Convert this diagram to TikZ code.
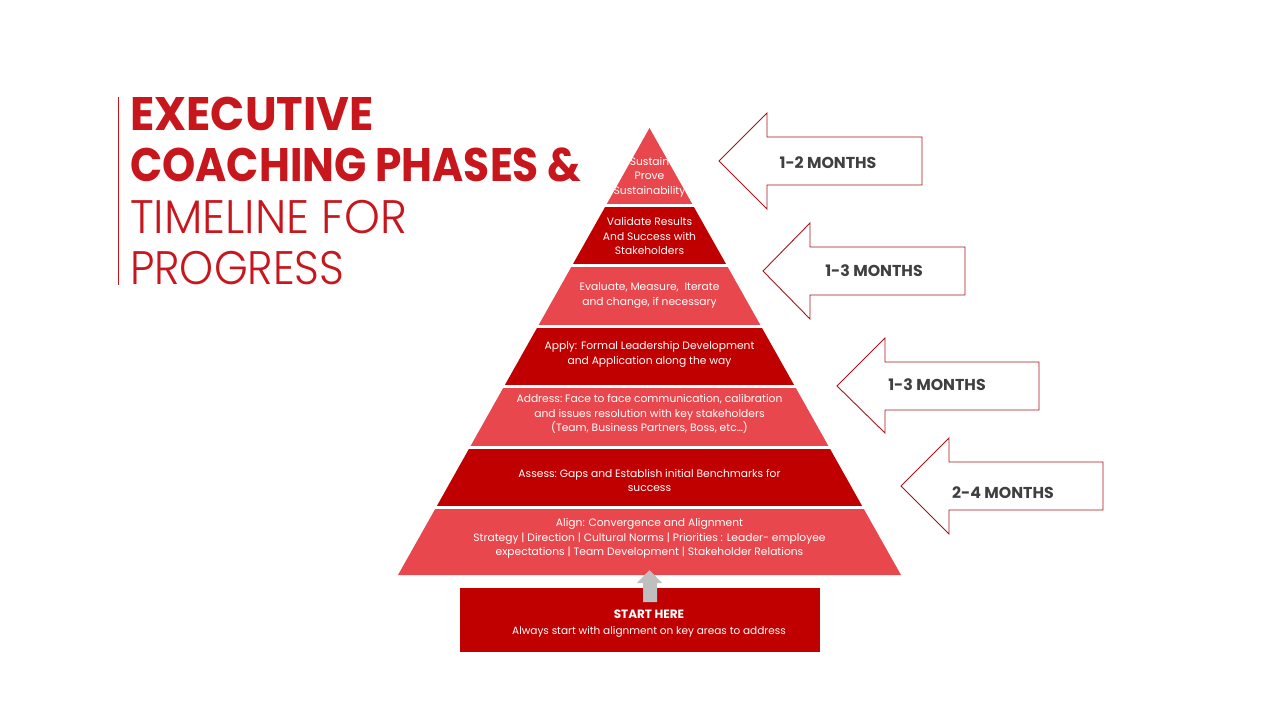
\documentclass[tikz,border=0pt]{standalone}
\usepackage{fontspec}
\setmainfont{Poppins}
\newfontfamily\lightfont{Poppins Light}
\definecolor{lightred}{HTML}{E8484D}
\definecolor{darkred}{HTML}{C00000}
\definecolor{titlered}{HTML}{C8161D}
\definecolor{arrowline}{HTML}{A8141C}
\definecolor{monthgray}{HTML}{404040}
\definecolor{upgray}{HTML}{BFBFBF}
\tikzset{
  layertext/.style={text=white, align=center, inner sep=0pt, font=\fontsize{10.7}{14.5}\selectfont},
  monthtext/.style={text=monthgray, inner sep=0pt, font=\fontsize{15.8}{15.8}\selectfont\bfseries},
  monthshape/.style={draw=arrowline, line width=0.9pt, fill=white, line join=miter},
  gap/.style={draw=white, line width=2.5pt},
  titlebold/.style={text=titlered, inner sep=0pt, anchor=base west, font=\fontsize{47}{47}\selectfont\bfseries},
  titlelight/.style={text=titlered, inner sep=0pt, anchor=base west, font=\fontsize{47}{47}\selectfont\lightfont},
}
\begin{document}
\begin{tikzpicture}[x=1pt,y=-1pt]
\useasboundingbox (0,0) rectangle (1280,720);
\fill[white] (0,0) rectangle (1280,720);

% title
\draw[titlered, line width=1pt] (118,97) -- (118,285);
\node[titlebold] (t1) at (130,130) {\scalebox{0.956}[1]{EXECUTIVE}};
\node[titlebold] (t2) at (130,181) {\scalebox{0.90}[1]{COACHING PHASES \&}};
\node[titlelight] (t3) at (130,233) {\scalebox{0.97}[1]{TIMELINE FOR}};
\node[titlelight] (t4) at (130,284) {\scalebox{0.92}[1]{PROGRESS}};

% pyramid layers
\fill[lightred] (649.5,128) -- (692.8,205) -- (606.2,205) -- cycle;
\fill[darkred] (606.2,205) -- (692.8,205) -- (726.6,265) -- (572.4,265) -- cycle;
\fill[lightred] (572.4,265) -- (726.6,265) -- (760.9,326) -- (538.1,326) -- cycle;
\fill[darkred] (538.1,326) -- (760.9,326) -- (794.7,386) -- (504.3,386) -- cycle;
\fill[lightred] (504.3,386) -- (794.7,386) -- (829,447) -- (470,447) -- cycle;
\fill[darkred] (470,447) -- (829,447) -- (862.7,507) -- (436.3,507) -- cycle;
\fill[lightred] (436.3,507) -- (862.7,507) -- (901,575) -- (398,575) -- cycle;
\draw[gap] (603,205.5) -- (696,205.5);
\draw[gap] (569,265.5) -- (730,265.5);
\draw[gap] (535,326.5) -- (764,326.5);
\draw[gap] (501,386.5) -- (798,386.5);
\draw[gap] (467,447.5) -- (832,447.5);
\draw[gap] (433,507.5) -- (866,507.5);

% layer texts
\node[layertext] (l1) at (649.5,177) {Sustain\\Prove\\Sustainability};
\node[layertext] (l2) at (649.5,236) {Validate Results\\And Success with\\Stakeholders};
\node[layertext] (l3) at (649.5,295.5) {Evaluate, Measure,\ \ Iterate\\and change, if necessary};
\node[layertext] (l4) at (649.5,354.5) {Apply: Formal Leadership Development\\and Application along the way};
\node[layertext] (l5) at (649.5,414) {Address:\ Face to face communication, calibration\\and issues resolution with key stakeholders\\(Team, Business Partners, Boss, etc…)};
\node[layertext] (l6) at (649.5,480.5) {Assess:\ Gaps and Establish initial Benchmarks for\\success};
\node[layertext] (l7) at (649.5,538.5) {Align: Convergence and Alignment\\Strategy | Direction | Cultural Norms | Priorities : Leader- employee\\expectations | Team Development | Stakeholder Relations};

% start box
\node[fill=darkred, minimum width=360pt, minimum height=64pt, inner sep=0pt] (start) at (640,620) {};
\fill[upgray] (643,602) -- (643,583) -- (637,583) -- (649.5,570) -- (662,583) -- (657,583) -- (657,602) -- cycle;
\node[layertext, font=\fontsize{10.5}{16}\selectfont] (st) at (649,624) {{\fontsize{12}{16}\selectfont\bfseries START HERE}\\Always start with alignment on key areas to address};

% month arrows
\draw[monthshape] (719,161) -- (767,113) -- (767,137) -- (922,137) -- (922,185) -- (767,185) -- (767,209) -- cycle;
\node[monthtext] (m1) at (828,163) {1-2 MONTHS};
\draw[monthshape] (763,271) -- (810,223) -- (810,247) -- (965,247) -- (965,295) -- (810,295) -- (810,319) -- cycle;
\node[monthtext] (m2) at (874,271) {1-3 MONTHS};
\draw[monthshape] (837,386) -- (885,338) -- (885,362) -- (1039,362) -- (1039,410) -- (885,410) -- (885,433) -- cycle;
\node[monthtext] (m3) at (937,385) {1-3 MONTHS};
\draw[monthshape] (901,486) -- (949,438) -- (949,462) -- (1103,462) -- (1103,510) -- (949,510) -- (949,534) -- cycle;
\node[monthtext] (m4) at (1003,493) {2-4 MONTHS};
\end{tikzpicture}
\end{document}
